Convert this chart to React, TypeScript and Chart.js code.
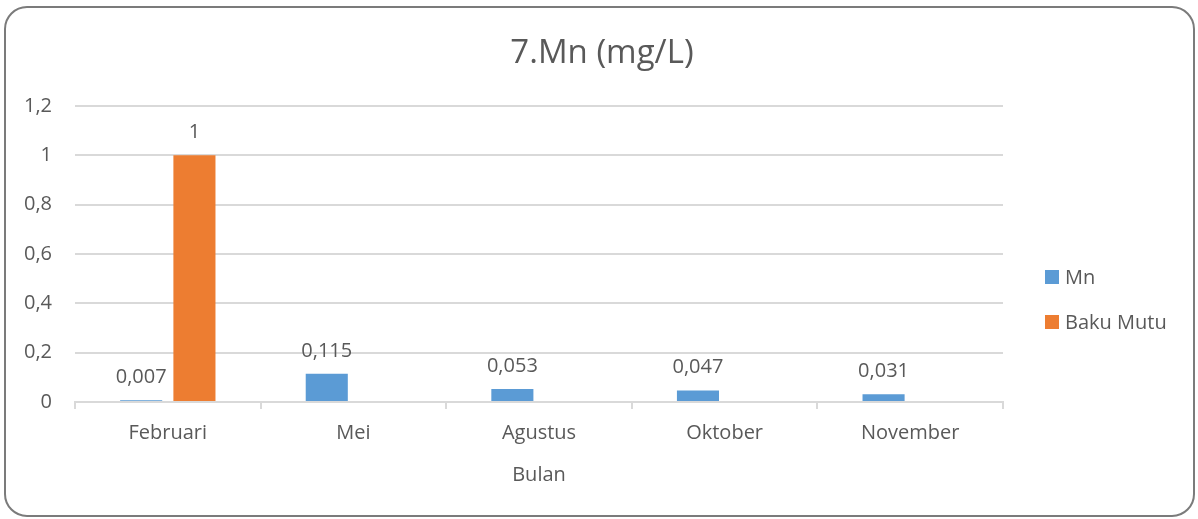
import React, { useEffect, useRef } from 'react';
import { Chart, registerables } from 'chart.js';

Chart.register(...registerables);

const categories = ['Februari', 'Mei', 'Agustus', 'Oktober', 'November'];
const mnValues = [0.007, 0.115, 0.053, 0.047, 0.031];
const bakuMutuValues: (number | null)[] = [1, null, null, null, null];
const yTickValues = [0, 0.2, 0.4, 0.6, 0.8, 1, 1.2];
const seriesNames = ['Mn', 'Baku Mutu'];
const seriesColors = ['#5b9bd5', '#ed7d31'];
const titleText = '7.Mn (mg/L)';
const xAxisTitle = 'Bulan';

const FONT = "'Open Sans', 'Noto Sans', sans-serif";
const TEXT = '#595959';
const GRID = '#d9d9d9';

const fmt = (v: number) => String(Math.round(v * 1000) / 1000).replace('.', ',');

const decor = {
  id: 'decor',
  beforeDraw(chart: any) {
    const ctx = chart.ctx;
    ctx.save();
    ctx.fillStyle = '#ffffff';
    ctx.fillRect(0, 0, chart.width, chart.height);
    ctx.beginPath();
    ctx.roundRect(5, 7, 1189, 509, 22);
    ctx.lineWidth = 2;
    ctx.strokeStyle = '#7b7b7b';
    ctx.stroke();
    ctx.restore();
  },
  afterDraw(chart: any) {
    const ctx = chart.ctx;
    const area = chart.chartArea;
    ctx.save();
    ctx.fillStyle = TEXT;
    // title
    ctx.font = `33px ${FONT}`;
    ctx.textAlign = 'center';
    ctx.textBaseline = 'alphabetic';
    ctx.fillText(titleText, 602, 63);
    // x axis title
    ctx.font = `20px ${FONT}`;
    ctx.fillText(xAxisTitle, (area.left + area.right) / 2, 481);
    // data labels
    chart.data.datasets.forEach((ds: any, i: number) => {
      const meta = chart.getDatasetMeta(i);
      meta.data.forEach((bar: any, j: number) => {
        const v = ds.data[j];
        if (v == null) return;
        ctx.fillText(fmt(v), bar.x, bar.y - 17);
      });
    });
    // legend
    ctx.textAlign = 'left';
    seriesNames.forEach((name, i) => {
      const y = 270 + i * 45;
      ctx.fillStyle = seriesColors[i];
      ctx.fillRect(1045, y, 14, 14);
      ctx.fillStyle = TEXT;
      ctx.fillText(name, 1065, y + 14);
    });
    ctx.restore();
  },
};

export default function App() {
  const ref = useRef<HTMLCanvasElement | null>(null);
  useEffect(() => {
    if (!ref.current) return;
    const chart = new Chart(ref.current, {
      type: 'bar',
      data: {
        labels: categories,
        datasets: [
          {
            label: seriesNames[0],
            data: mnValues,
            backgroundColor: seriesColors[0],
            categoryPercentage: 0.574,
            barPercentage: 0.79,
          },
          {
            label: seriesNames[1],
            data: bakuMutuValues,
            backgroundColor: seriesColors[1],
            categoryPercentage: 0.574,
            barPercentage: 0.79,
          },
        ],
      },
      options: {
        responsive: false,
        animation: false,
        devicePixelRatio: 1,
        layout: { padding: { left: 0, right: 195, top: 106, bottom: 0 } },
        plugins: {
          legend: { display: false },
          title: { display: false },
          tooltip: { enabled: false },
        },
        scales: {
          x: {
            grid: {
              offset: true,
              drawOnChartArea: false,
              drawTicks: true,
              tickLength: 7,
              color: GRID,
              lineWidth: 2,
            },
            border: { display: true, color: GRID, width: 2 },
            ticks: {
              color: TEXT,
              font: { family: FONT, size: 20 },
              padding: 12,
              maxRotation: 0,
            },
            afterFit: (s: any) => {
              s.height = 117;
            },
          },
          y: {
            min: 0,
            max: 1.2,
            grid: { color: GRID, lineWidth: 2, drawTicks: false },
            border: { display: false },
            ticks: {
              color: TEXT,
              font: { family: FONT, size: 20 },
              padding: 23,
              callback: (v: any) => fmt(Number(v)),
            },
            afterBuildTicks: (s: any) => {
              s.ticks = yTickValues.map((v) => ({ value: v }));
            },
            afterFit: (s: any) => {
              s.width = 75;
            },
          },
        },
      },
      plugins: [decor],
    });
    return () => chart.destroy();
  }, []);
  return (
    <div style={{ position: 'fixed', left: 0, top: 0, width: 1198, height: 519 }}>
      <canvas ref={ref} width={1198} height={519} style={{ display: 'block' }} />
    </div>
  );
}
